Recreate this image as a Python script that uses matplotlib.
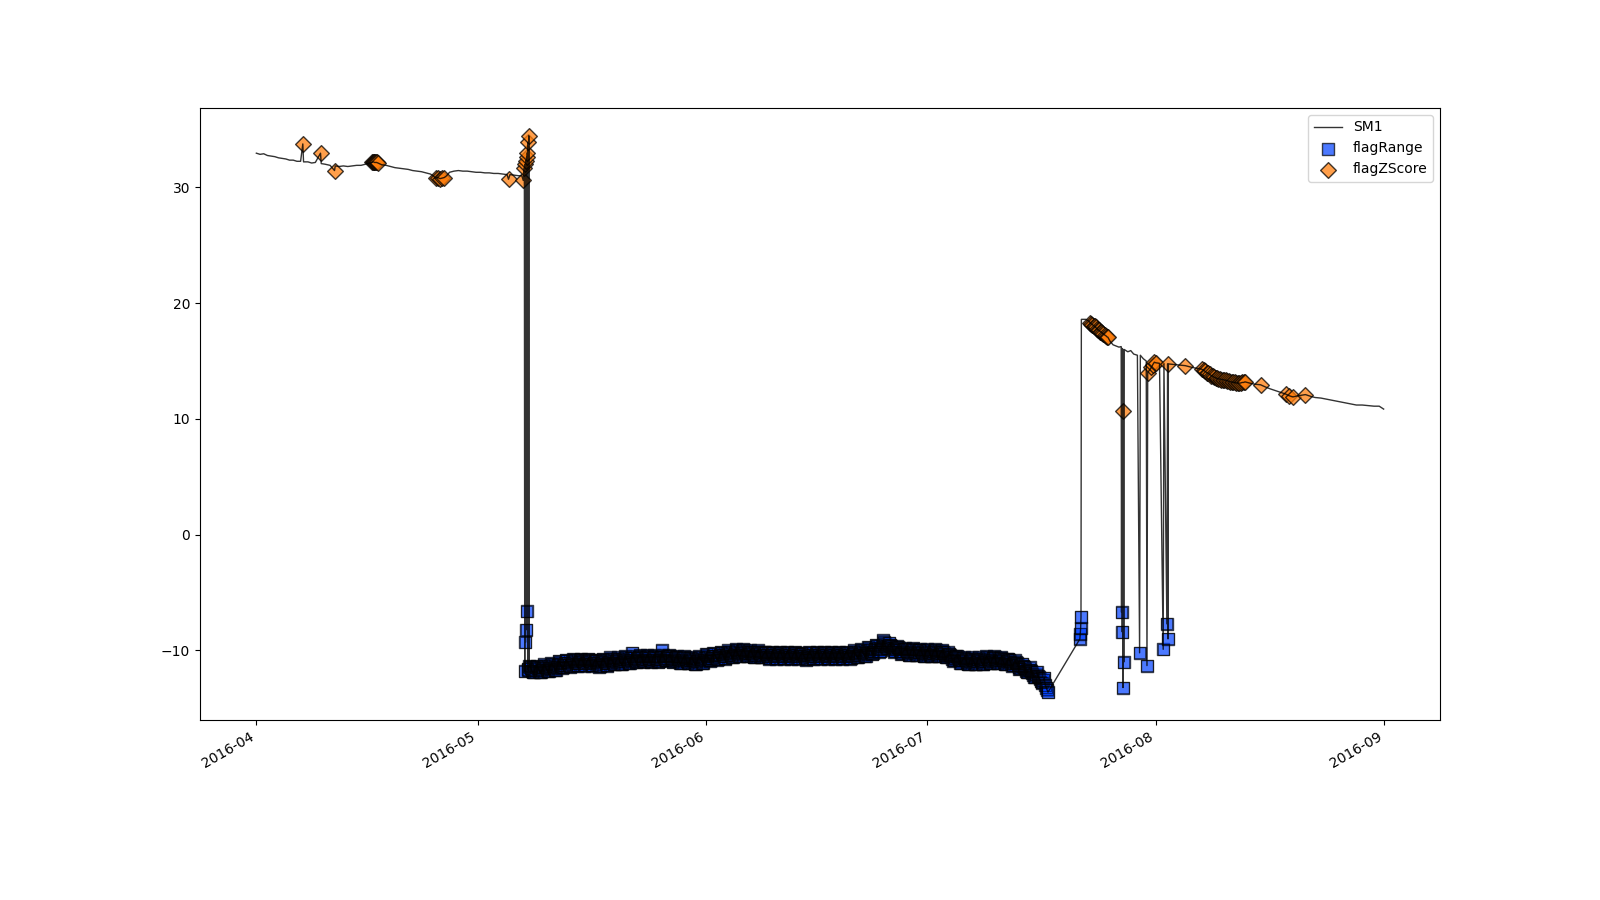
import numpy as np
import pandas as pd
import matplotlib
matplotlib.use("Agg")
import matplotlib.pyplot as plt

start = pd.Timestamp("2016-04-01")

# valid range for the range test
range_low, range_high = 0.0, 100.0

# spring: day offset from 1 April, SM1 value, z-score flag
spring_day = [0.0, 0.5, 1.0, 1.5, 2.0, 2.5, 3.0, 3.5, 4.0, 4.5,
              5.0, 5.5, 6.0, 6.3, 6.4, 7.0, 7.5, 8.0, 8.7, 8.8,
              9.3, 10.0, 10.6, 10.7, 11.2, 11.8, 12.4, 13.0, 13.6, 14.2,
              14.8, 15.4, 15.7, 15.8, 15.9, 16.0, 16.1, 16.2, 16.3, 16.5,
              17.0, 17.6, 18.2, 18.8, 19.4, 20.0, 20.6, 21.2, 21.8, 22.4,
              23.0, 23.6, 24.0, 24.3, 24.6, 24.9, 25.2, 25.5, 25.8, 26.2,
              26.8, 27.4, 28.0, 28.6, 29.2, 29.8, 30.4, 31.0, 31.6, 32.2,
              32.8, 33.4, 34.0, 34.2, 34.4, 35.0, 35.6, 36.0, 36.2, 36.35,
              36.4, 36.45, 36.5, 36.55, 36.6, 36.65, 36.7, 36.75, 36.8, 36.85,
              36.9, 36.95]
spring_val = [32.95, 32.85, 32.9, 32.75, 32.7, 32.65, 32.55, 32.5, 32.45, 32.35,
              32.35, 32.25, 32.25, 33.75, 32.2, 32.2, 32.1, 32.15, 32.95, 32.05,
              32.0, 31.9, 31.45, 31.85, 31.8, 31.85, 31.8, 31.85, 31.9, 31.9,
              32.0, 32.1, 32.15, 32.2, 32.2, 32.15, 32.15, 32.15, 32.15, 32.1,
              31.95, 31.9, 31.8, 31.7, 31.65, 31.6, 31.55, 31.45, 31.4, 31.35,
              31.25, 31.15, 31.0, 30.8, 30.85, 30.75, 30.8, 30.85, 31.0, 31.3,
              31.4, 31.45, 31.4, 31.4, 31.35, 31.3, 31.3, 31.25, 31.25, 31.2,
              31.2, 31.15, 31.1, 30.7, 31.1, 31.05, 31.0, 31.0, 30.6, 31.7,
              -11.8, 32.0, -9.3, 32.3, -8.2, 32.6, -6.6, 33.0, -11.6, 33.9,
              -11.7, 34.45]
spring_z = [0, 0, 0, 0, 0, 0, 0, 0, 0, 0,
            0, 0, 0, 1, 0, 0, 0, 0, 1, 0,
            0, 0, 1, 0, 0, 0, 0, 0, 0, 0,
            0, 0, 1, 1, 1, 1, 1, 1, 1, 1,
            0, 0, 0, 0, 0, 0, 0, 0, 0, 0,
            0, 0, 0, 1, 1, 1, 1, 1, 0, 0,
            0, 0, 0, 0, 0, 0, 0, 0, 0, 0,
            0, 0, 0, 1, 0, 0, 0, 0, 1, 1,
            0, 1, 0, 1, 0, 1, 0, 1, 0, 1,
            0, 1]

# sensor failure plateau, every 3 h from 8 May (one line per day)
plateau_start = "2016-05-08"
plateau_val = [
    -11.3, -11.4, -11.55, -11.75, -11.9, -11.85, -11.65, -11.45,
    -11.3, -11.4, -11.55, -11.75, -11.9, -11.85, -11.65, -11.45,
    -11.2, -11.3, -11.45, -11.65, -11.8, -11.75, -11.55, -11.35,
    -11.1, -11.2, -11.35, -11.55, -11.7, -11.65, -11.45, -11.25,
    -10.9, -11.0, -11.15, -11.35, -11.5, -11.45, -11.25, -11.05,
    -10.8, -10.9, -11.05, -11.25, -11.4, -11.35, -11.15, -10.95,
    -10.7, -10.8, -10.95, -11.15, -11.3, -11.25, -11.05, -10.85,
    -10.7, -10.8, -10.95, -11.15, -11.3, -11.25, -11.05, -10.85,
    -10.7, -10.8, -10.95, -11.15, -11.3, -11.25, -11.05, -10.85,
    -10.8, -10.9, -11.05, -11.25, -11.4, -11.35, -11.15, -10.95,
    -10.7, -10.8, -10.95, -11.15, -11.3, -11.25, -11.05, -10.85,
    -10.6, -10.7, -10.85, -11.05, -11.2, -11.15, -10.95, -10.75,
    -10.6, -10.7, -10.85, -11.05, -11.2, -11.15, -10.95, -10.75,
    -10.5, -10.6, -10.75, -10.95, -11.1, -11.05, -10.85, -10.65,
    -10.2, -10.5, -10.65, -10.85, -11.0, -10.95, -10.75, -10.55,
    -10.4, -10.5, -10.65, -10.85, -11.0, -10.95, -10.75, -10.55,
    -10.4, -10.5, -10.65, -10.85, -11.0, -10.95, -10.75, -10.55,
    -10.4, -10.5, -10.65, -10.85, -11.0, -10.95, -10.75, -10.55,
    -10.0, -10.4, -10.55, -10.75, -10.9, -10.85, -10.65, -10.45,
    -10.4, -10.5, -10.65, -10.85, -11.0, -10.95, -10.75, -10.55,
    -10.5, -10.6, -10.75, -10.95, -11.1, -11.05, -10.85, -10.65,
    -10.5, -10.6, -10.75, -10.95, -11.1, -11.05, -10.85, -10.65,
    -10.6, -10.7, -10.85, -11.05, -11.2, -11.15, -10.95, -10.75,
    -10.5, -10.6, -10.75, -10.95, -11.1, -11.05, -10.85, -10.65,
    -10.3, -10.4, -10.55, -10.75, -10.9, -10.85, -10.65, -10.45,
    -10.2, -10.3, -10.45, -10.65, -10.8, -10.75, -10.55, -10.35,
    -10.1, -10.2, -10.35, -10.55, -10.7, -10.65, -10.45, -10.25,
    -10.0, -10.1, -10.25, -10.45, -10.6, -10.55, -10.35, -10.15,
    -9.9, -10.0, -10.15, -10.35, -10.5, -10.45, -10.25, -10.05,
    -9.9, -10.0, -10.15, -10.35, -10.5, -10.45, -10.25, -10.05,
    -10.0, -10.1, -10.25, -10.45, -10.6, -10.55, -10.35, -10.15,
    -10.0, -10.1, -10.25, -10.45, -10.6, -10.55, -10.35, -10.15,
    -10.1, -10.2, -10.35, -10.55, -10.7, -10.65, -10.45, -10.25,
    -10.1, -10.2, -10.35, -10.55, -10.7, -10.65, -10.45, -10.25,
    -10.1, -10.2, -10.35, -10.55, -10.7, -10.65, -10.45, -10.25,
    -10.1, -10.2, -10.35, -10.55, -10.7, -10.65, -10.45, -10.25,
    -10.1, -10.2, -10.35, -10.55, -10.7, -10.65, -10.45, -10.25,
    -10.2, -10.3, -10.45, -10.65, -10.8, -10.75, -10.55, -10.35,
    -10.1, -10.2, -10.35, -10.55, -10.7, -10.65, -10.45, -10.25,
    -10.1, -10.2, -10.35, -10.55, -10.7, -10.65, -10.45, -10.25,
    -10.1, -10.2, -10.35, -10.55, -10.7, -10.65, -10.45, -10.25,
    -10.1, -10.2, -10.35, -10.55, -10.7, -10.65, -10.45, -10.25,
    -10.1, -10.2, -10.35, -10.55, -10.7, -10.65, -10.45, -10.25,
    -10.1, -10.2, -10.35, -10.55, -10.7, -10.65, -10.45, -10.25,
    -10.0, -10.1, -10.25, -10.45, -10.6, -10.55, -10.35, -10.15,
    -9.9, -10.0, -10.15, -10.35, -10.5, -10.45, -10.25, -10.05,
    -9.7, -9.8, -9.95, -10.15, -10.3, -10.25, -10.05, -9.85,
    -9.5, -9.6, -9.75, -9.95, -10.1, -10.05, -9.85, -9.65,
    -9.1, -9.3, -9.45, -9.65, -9.8, -9.75, -9.55, -9.35,
    -9.5, -9.6, -9.75, -9.95, -10.1, -10.05, -9.85, -9.65,
    -9.7, -9.8, -9.95, -10.15, -10.3, -10.25, -10.05, -9.85,
    -9.8, -9.9, -10.05, -10.25, -10.4, -10.35, -10.15, -9.95,
    -9.8, -9.9, -10.05, -10.25, -10.4, -10.35, -10.15, -9.95,
    -9.9, -10.0, -10.15, -10.35, -10.5, -10.45, -10.25, -10.05,
    -9.9, -10.0, -10.15, -10.35, -10.5, -10.45, -10.25, -10.05,
    -9.9, -10.0, -10.15, -10.35, -10.5, -10.45, -10.25, -10.05,
    -10.0, -10.1, -10.25, -10.45, -10.6, -10.55, -10.35, -10.15,
    -10.3, -10.4, -10.55, -10.75, -10.9, -10.85, -10.65, -10.45,
    -10.5, -10.6, -10.75, -10.95, -11.1, -11.05, -10.85, -10.65,
    -10.6, -10.7, -10.85, -11.05, -11.2, -11.15, -10.95, -10.75,
    -10.6, -10.7, -10.85, -11.05, -11.2, -11.15, -10.95, -10.75,
    -10.6, -10.7, -10.85, -11.05, -11.2, -11.15, -10.95, -10.75,
    -10.5, -10.6, -10.75, -10.95, -11.1, -11.05, -10.85, -10.65,
    -10.5, -10.6, -10.75, -10.95, -11.1, -11.05, -10.85, -10.65,
    -10.6, -10.7, -10.85, -11.05, -11.2, -11.15, -10.95, -10.75,
    -10.7, -10.8, -10.95, -11.15, -11.3, -11.25, -11.05, -10.85,
    -11.0, -11.1, -11.25, -11.45, -11.6, -11.55, -11.35, -11.15,
    -11.3, -11.4, -11.55, -11.75, -11.9, -11.85, -11.65, -11.45,
    -11.7, -11.8, -11.95, -12.15, -12.3, -12.25, -12.05, -11.85,
    -12.2, -12.3, -12.45, -12.65, -12.8, -12.75, -12.55, -12.35,
    -13.0, -13.2, -13.4, -13.6]

# recovery after the data gap
summer_day = [111.7, 111.75, 111.8, 111.85, 111.9, 112.5, 112.9, 113.1, 113.25, 113.4,
              113.55, 113.7, 113.85, 114.0, 114.15, 114.3, 114.45, 114.6, 114.75, 114.9,
              115.05, 115.2, 115.35, 115.5, 115.8, 116.2, 116.6, 117.0, 117.3, 117.35,
              117.4, 117.45, 117.5, 117.55, 117.6, 117.65, 117.7, 118.2, 118.6, 119.0,
              119.5, 119.8, 119.9, 120.3, 120.7, 120.8, 120.9, 121.4, 121.6, 121.8,
              122.0, 122.5, 123.0, 123.1, 123.5, 123.6, 123.65, 123.7, 124.5, 125.3,
              126.0, 126.6, 127.3, 128.2, 128.5, 128.7, 128.9, 129.1, 129.3, 129.5,
              129.7, 129.9, 130.1, 130.3, 130.5, 130.7, 130.9, 131.1, 131.3, 131.5,
              131.7, 131.9, 132.1, 132.3, 132.5, 132.7, 132.9, 133.1, 133.3, 133.5,
              133.7, 133.9, 134.1, 134.7, 135.4, 136.2, 136.9, 137.5, 138.2, 138.9,
              139.6, 140.1, 140.6, 141.3, 142.3, 143.0, 143.6, 144.4, 145.2, 146.0,
              146.8, 147.6, 148.4, 149.2, 150.0, 150.8, 151.6, 152.3, 152.9]
summer_val = [-9.0, -8.55, -8.1, -7.1, 18.6, 18.6, 18.45, 18.3, 18.2, 18.15,
              18.05, 18.0, 17.9, 17.8, 17.7, 17.65, 17.55, 17.5, 17.4, 17.35,
              17.25, 17.2, 17.1, 17.05, 16.7, 16.4, 16.3, 16.2, 16.25, -6.7,
              16.1, -8.4, 10.7, -13.2, 16.0, -11.0, 16.0, 15.8, 15.9, 15.6,
              15.5, -10.2, 15.5, 15.2, 15.0, -11.3, 14.0, 14.45, 14.7, 14.9,
              14.85, 14.8, -9.9, 14.75, -7.7, 14.75, -9.0, 14.75, 14.7, 14.65,
              14.6, 14.5, 14.4, 14.3, 14.2, 14.1, 14.0, 13.95, 13.85, 13.75,
              13.7, 13.6, 13.55, 13.5, 13.45, 13.45, 13.4, 13.4, 13.35, 13.35,
              13.3, 13.25, 13.2, 13.2, 13.15, 13.15, 13.1, 13.1, 13.1, 13.1,
              13.15, 13.15, 13.2, 13.1, 13.0, 12.95, 12.75, 12.6, 12.45, 12.3,
              12.15, 12.0, 11.9, 12.0, 12.1, 11.95, 11.85, 11.8, 11.7, 11.6,
              11.5, 11.4, 11.3, 11.2, 11.2, 11.15, 11.1, 11.1, 10.85]
summer_z = [0, 0, 0, 0, 0, 0, 0, 1, 1, 1,
            1, 1, 1, 1, 1, 1, 1, 1, 1, 1,
            1, 1, 1, 1, 0, 0, 0, 0, 0, 0,
            0, 0, 1, 0, 0, 0, 0, 0, 0, 0,
            0, 0, 0, 0, 0, 0, 1, 1, 1, 1,
            1, 0, 0, 0, 0, 0, 0, 1, 0, 0,
            1, 0, 0, 1, 1, 1, 1, 1, 1, 1,
            1, 1, 1, 1, 1, 1, 1, 1, 1, 1,
            1, 1, 1, 1, 1, 1, 1, 1, 1, 1,
            1, 1, 1, 0, 0, 1, 0, 0, 0, 0,
            1, 1, 1, 0, 1, 0, 0, 0, 0, 0,
            0, 0, 0, 0, 0, 0, 0, 0, 0]

assert len(spring_day) == len(spring_val) == len(spring_z)
assert len(summer_day) == len(summer_val) == len(summer_z)

t_spring = start + pd.to_timedelta(spring_day, unit="D")
t_plateau = pd.date_range(plateau_start, periods=len(plateau_val), freq="3h")
t_summer = start + pd.to_timedelta(summer_day, unit="D")

df = pd.DataFrame({
    "SM1": spring_val + plateau_val + summer_val,
    "zflag": spring_z + [0] * len(plateau_val) + summer_z,
}, index=t_spring.append(t_plateau).append(t_summer))

flag_range = (df["SM1"] < range_low) | (df["SM1"] > range_high)
flag_z = df["zflag"] == 1

fig, ax = plt.subplots(figsize=(16, 9))
ax.plot(df.index, df["SM1"], color="k", alpha=0.8, linewidth=1, label="SM1")

sq = dict(marker="s", s=64, alpha=0.7)
ax.scatter(df.index[flag_range], df["SM1"][flag_range], color="#0040ff",
           edgecolors="k", label="flagRange", **sq)
# outlines again on top, where the flagged points pile up they go black
ax.scatter(df.index[flag_range], df["SM1"][flag_range], facecolors="none",
           edgecolors="k", linewidths=0.5, **sq)

ax.scatter(df.index[flag_z], df["SM1"][flag_z], marker="D", s=64,
           color="tab:orange", alpha=0.75, edgecolors="k", label="flagZScore")
ax.legend(loc="upper right")
fig.autofmt_xdate()

fig.savefig("out.png", dpi=100)
